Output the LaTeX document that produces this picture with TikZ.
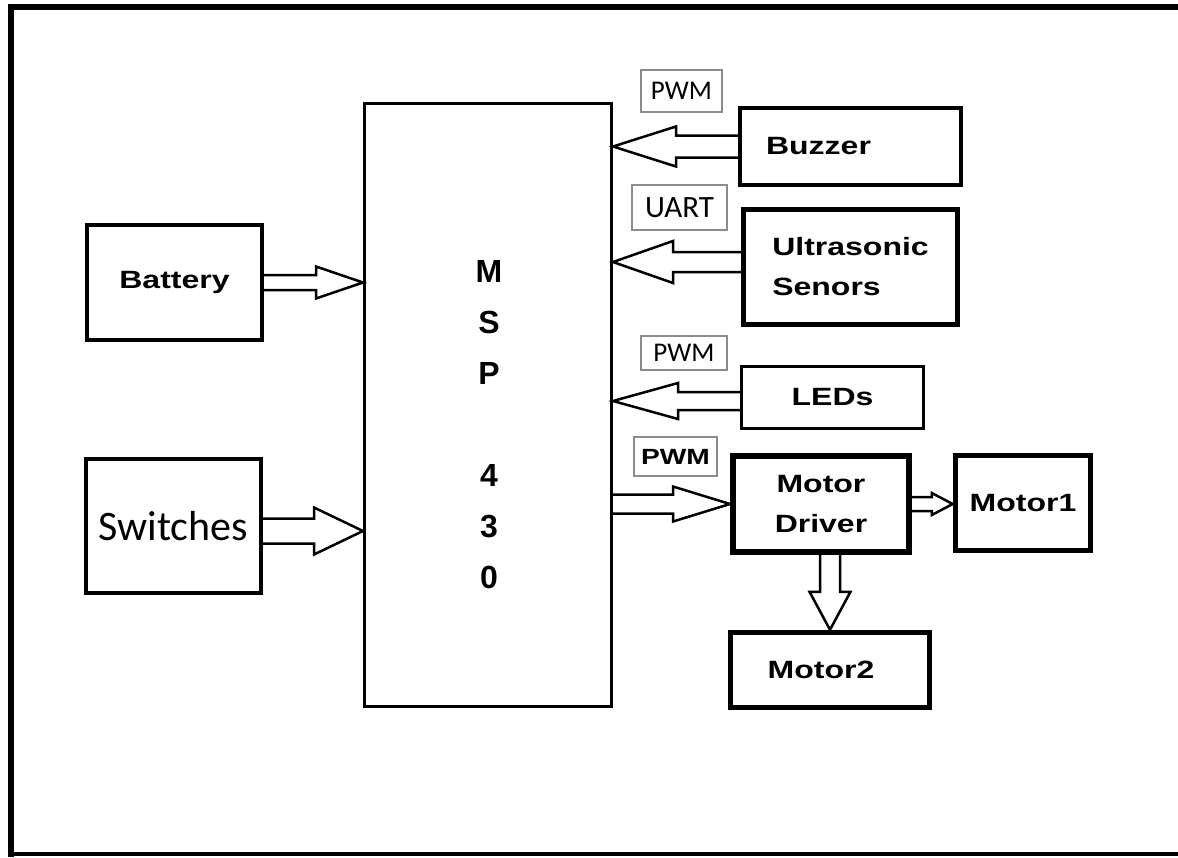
\documentclass[tikz,border=0pt]{standalone}
\usepackage{fontspec}
\usetikzlibrary{calc}

\newfontfamily\blockfont[FakeStretch=1.28]{Liberation Sans}
\newfontfamily\chipfont{Liberation Sans}
\newfontfamily\tagfont{Carlito}

\definecolor{TagGray}{HTML}{8C8C8C}

% hollow block arrow: start, tip, half shaft, half head, head length
\newcommand{\hollowarrow}[5]{%
    \draw[fatarrow] ($(#1)!#3!90:(#2)$) -- ($(#2)!#5!(#1)!#3!90:(#2)$)
        -- ($(#2)!#5!(#1)!#4!90:(#2)$) -- (#2)
        -- ($(#2)!#5!(#1)!#4!-90:(#2)$) -- ($(#2)!#5!(#1)!#3!-90:(#2)$)
        -- ($(#1)!#3!-90:(#2)$);
}

\begin{document}
\begin{tikzpicture}[x=1pt, y=-1pt,
    block/.style={draw, line width=3.5pt, inner sep=0pt,
        font=\blockfont\bfseries\fontsize{25}{40}\selectfont, align=center},
    thickblock/.style={block, line width=5.5pt},
    tag/.style={draw=TagGray, line width=1.5pt, inner sep=0pt,
        font=\tagfont\fontsize{27}{27}\selectfont},
    fatarrow/.style={line width=2.5pt, line join=miter}]

    \useasboundingbox (0,0) rectangle (1178,857);

    % frame
    \draw[line width=6pt] (1178,7) -- (11,7) -- (11,857);
    \draw[line width=4pt] (9,854) -- (1178,854);

    % controller
    \node[block, line width=3pt, minimum width=247, minimum height=603] (msp) at (488,405) {};
    \node[font=\chipfont\bfseries\fontsize{32}{51}\selectfont, align=center] (msplabel) at (489,425)
        {M\\S\\P\\[51pt]4\\3\\0};

    % inputs on the left
    \node[block, line width=4pt, minimum width=175, minimum height=115] (battery) at (174.5,282.5) {Battery};
    \node[block, line width=4pt, minimum width=175, minimum height=134,
        font=\tagfont\fontsize{42}{42}\selectfont] (switches) at (173.5,526) {Switches};

    % peripherals on the right
    \node[block, minimum width=221, minimum height=77] (buzzer) at (850.5,146.5) {Buzzer\hspace*{64pt}};
    \node[thickblock, minimum width=214, minimum height=115, align=left] (ultra) at (850.5,267) {Ultrasonic\\Senors};
    \node[block, minimum width=182, minimum height=62] (leds) at (832.5,397.5) {LEDs};
    \node[thickblock, line width=6pt, minimum width=176, minimum height=96] (driver) at (821,504) {Motor\\Driver};
    \node[thickblock, minimum width=135, minimum height=95] (motor1) at (1023,503) {Motor1};
    \node[thickblock, minimum width=199, minimum height=75] (motor2) at (830,670) {Motor2\hspace*{18pt}};

    % bus labels
    \node[tag, minimum width=81, minimum height=42] (pwm-buzzer) at (681.5,91) {PWM};
    \node[tag, minimum width=95, minimum height=45, font=\tagfont\fontsize{31}{31}\selectfont] (uart) at (679.5,207.5) {UART};
    \node[tag, minimum width=86, minimum height=34] (pwm-leds) at (684,353) {PWM};
    \node[tag, minimum width=83, minimum height=39,
        font=\blockfont\bfseries\fontsize{22}{22}\selectfont] (pwm-driver) at (675.5,456.5) {PWM};

    % arrows into the controller
    \coordinate (bat-tip) at (msp.west |- battery.east);
    \coordinate (sw-tip) at ($(msp.west |- switches.east)+(0,5)$);
    \coordinate (sw-out) at ($(switches.east)+(0,5)$);
    \coordinate (buz-tip) at (msp.east |- buzzer.west);
    \coordinate (us-out) at ($(ultra.west)+(0,-5)$);
    \coordinate (us-tip) at (msp.east |- us-out);
    \coordinate (led-out) at ($(leds.west)+(0,3.5)$);
    \coordinate (led-tip) at (msp.east |- led-out);

    \hollowarrow{battery.east}{bat-tip}{7.5pt}{16pt}{47pt}
    \hollowarrow{sw-out}{sw-tip}{12.5pt}{23.5pt}{49pt}
    \hollowarrow{buzzer.west}{buz-tip}{11pt}{20pt}{63pt}
    \hollowarrow{us-out}{us-tip}{10pt}{21pt}{60pt}
    \hollowarrow{led-out}{led-tip}{9pt}{18pt}{65pt}

    % arrows to the motors
    \coordinate (msp-out) at (msp.east |- driver.west);
    \coordinate (drv-down) at (motor2.north |- driver.south);

    \hollowarrow{msp-out}{driver.west}{9.5pt}{17.5pt}{57pt}
    \hollowarrow{driver.east}{motor1.west |- driver.east}{7pt}{11pt}{21pt}
    \hollowarrow{drv-down}{motor2.north}{10pt}{20.5pt}{38pt}

\end{tikzpicture}
\end{document}
